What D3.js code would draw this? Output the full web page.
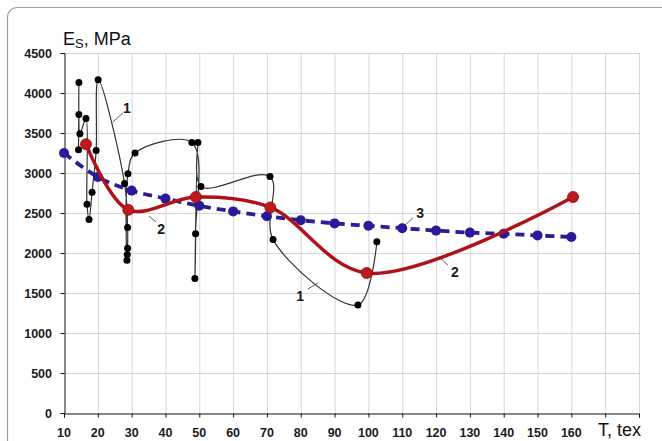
<!DOCTYPE html>
<html lang="en">
<head>
<meta charset="UTF-8">
<title>Es vs T</title>
<script src="https://d3js.org/d3.v7.min.js"></script>
<style>
    * { margin: 0; padding: 0; }
    body { background: #fff; }
    .tick-label { font: bold 12.5px Arial, "Liberation Sans", sans-serif; fill: #1a1a1a; }
    .note { font: bold 14px Arial, "Liberation Sans", sans-serif; fill: #1a1a1a; }
</style>
</head>
<body>
<script>
// series 1: measured points (in plotting order)
var series1T = [14.3, 14.4, 14.4, 14.7, 16.5, 16.8, 17.4, 18.3, 19.5, 20.1,
                27.9, 28.8, 28.8, 28.7, 28.6, 28.9, 31.0, 47.8, 48.9, 48.7,
                49.6, 50.5, 70.9, 71.8, 96.9, 102.5];
var series1E = [3290, 4130, 3730, 3490, 3680, 2610, 2420, 2760, 3280, 4165,
                2870, 2320, 2060, 1980, 1910, 2990, 3250, 3380, 2240, 1680,
                3380, 2830, 2955, 2170, 1350, 2140];
// series 2: averaged curve
var series2T = [16.5, 29, 49, 71, 99.5, 160.5];
var series2E = [3360, 2540, 2700, 2570, 1750, 2700];
// series 3: calculated
var series3T = [10, 20, 30, 40, 50, 60, 70, 80, 90, 100, 110, 120, 130, 140, 150, 160];
var series3E = [3250, 2950, 2780, 2680, 2590, 2520, 2460, 2410, 2370, 2340, 2310, 2280, 2255, 2240, 2220, 2200];

var xTicks = [10, 20, 30, 40, 50, 60, 70, 80, 90, 100, 110, 120, 130, 140, 150, 160];
var yTicks = [0, 500, 1000, 1500, 2000, 2500, 3000, 3500, 4000, 4500];

// curve labels: text position and leader line, in data units
var notes = [
    { text: "1", t: 28.6, e: 3810, t1: 27.4, e1: 3750, t2: 24.5, e2: 3640 },
    { text: "2", t: 38.7, e: 2300, t1: 37.2, e1: 2390, t2: 35.1, e2: 2460 },
    { text: "1", t: 79.8, e: 1460, t1: 82.1, e1: 1550, t2: 85.1, e2: 1625 },
    { text: "3", t: 115.3, e: 2500, t1: 113.2, e1: 2440, t2: 110.8, e2: 2350 },
    { text: "2", t: 125.6, e: 1760, t1: 123.5, e1: 1850, t2: 120.9, e2: 1950 }
];

var width = 662, height = 441;
var svg = d3.select("body").append("svg")
    .attr("width", width)
    .attr("height", height);

// outer frame
svg.append("rect")
    .attr("x", 7.5).attr("y", 7.5)
    .attr("width", 720).attr("height", 520)
    .attr("rx", 10)
    .attr("fill", "#fff")
    .attr("stroke", "#a0a0a0")
    .attr("stroke-width", 1.2);

var x = d3.scaleLinear().domain([10, 180]).range([64, 639]);
var y = d3.scaleLinear().domain([0, 4500]).range([413, 53]);

// grid
svg.append("g").selectAll("line")
    .data(d3.range(20, 181, 10))
    .enter().append("line")
    .attr("x1", function (d) { return x(d) + 0.5; })
    .attr("x2", function (d) { return x(d) + 0.5; })
    .attr("y1", y(4500)).attr("y2", y(0))
    .attr("stroke", "#d6d6d6");
svg.append("g").selectAll("line")
    .data(yTicks.slice(1))
    .enter().append("line")
    .attr("x1", x(10)).attr("x2", x(180))
    .attr("y1", function (d) { return y(d) + 0.5; })
    .attr("y2", function (d) { return y(d) + 0.5; })
    .attr("stroke", "#d6d6d6");

// axes
svg.append("g")
    .attr("transform", "translate(0," + (y(0) + 0.5) + ")")
    .call(d3.axisBottom(x).tickValues(d3.range(10, 181, 10)).tickSize(4).tickFormat(""));
svg.append("g")
    .attr("transform", "translate(" + (x(10) + 0.5) + ",0)")
    .call(d3.axisLeft(y).tickValues(yTicks).tickSize(4).tickFormat(""));
svg.selectAll(".domain").attr("stroke", "#111");
svg.selectAll(".tick line").attr("stroke", "#111");

svg.append("g").selectAll("text")
    .data(yTicks)
    .enter().append("text")
    .attr("class", "tick-label")
    .attr("x", 52)
    .attr("y", function (d) { return y(d) + 4.5; })
    .attr("text-anchor", "end")
    .text(function (d) { return d; });

svg.append("g").selectAll("text")
    .data(xTicks)
    .enter().append("text")
    .attr("class", "tick-label")
    .attr("x", function (d) { return x(d); })
    .attr("y", 437)
    .attr("text-anchor", "middle")
    .text(function (d) { return d; });

// axis titles
var yTitle = svg.append("text")
    .attr("x", 63).attr("y", 45)
    .attr("font-family", "Arial, 'Liberation Sans', sans-serif")
    .attr("font-size", "18px")
    .attr("fill", "#111");
yTitle.append("tspan").text("E");
yTitle.append("tspan").attr("font-size", "13px").attr("dy", 3).text("S");
yTitle.append("tspan").attr("dy", -3).text(", MPa");

svg.append("text")
    .attr("x", 598).attr("y", 436)
    .attr("font-family", "Arial, 'Liberation Sans', sans-serif")
    .attr("font-size", "18px")
    .attr("fill", "#111")
    .text("T, tex");

function pts(ts, es) {
    return ts.map(function (t, i) { return [t, es[i]]; });
}
var data1 = pts(series1T, series1E);
var data2 = pts(series2T, series2E);
var data3 = pts(series3T, series3E);

var line = d3.line()
    .x(function (d) { return x(d[0]); })
    .y(function (d) { return y(d[1]); })
    .curve(d3.curveCatmullRom.alpha(0.5));

// series 1
svg.append("path")
    .datum(data1)
    .attr("d", line)
    .attr("fill", "none")
    .attr("stroke", "#333")
    .attr("stroke-width", 1.2);
svg.append("g").selectAll("circle")
    .data(data1)
    .enter().append("circle")
    .attr("cx", function (d) { return x(d[0]); })
    .attr("cy", function (d) { return y(d[1]); })
    .attr("r", 3.5)
    .attr("fill", "#000");

// series 3
svg.append("path")
    .datum(data3)
    .attr("d", line)
    .attr("fill", "none")
    .attr("stroke", "#2d1c96")
    .attr("stroke-width", 3.8)
    .attr("stroke-dasharray", "9,6");
svg.append("g").selectAll("circle")
    .data(data3)
    .enter().append("circle")
    .attr("cx", function (d) { return x(d[0]); })
    .attr("cy", function (d) { return y(d[1]); })
    .attr("r", 5)
    .attr("fill", "#2a1a9a");

// series 2
svg.append("path")
    .datum(data2)
    .attr("d", line)
    .attr("fill", "none")
    .attr("stroke", "#b0121a")
    .attr("stroke-width", 3.5);
svg.append("g").selectAll("circle")
    .data(data2)
    .enter().append("circle")
    .attr("cx", function (d) { return x(d[0]); })
    .attr("cy", function (d) { return y(d[1]); })
    .attr("r", 5.5)
    .attr("fill", "#c0181e")
    .attr("stroke", "#8a0c10")
    .attr("stroke-width", 0.8);

// labels
var g = svg.append("g");
g.selectAll("line")
    .data(notes)
    .enter().append("line")
    .attr("x1", function (d) { return x(d.t1); })
    .attr("y1", function (d) { return y(d.e1); })
    .attr("x2", function (d) { return x(d.t2); })
    .attr("y2", function (d) { return y(d.e2); })
    .attr("stroke", "#333")
    .attr("stroke-width", 0.8);
g.selectAll("text")
    .data(notes)
    .enter().append("text")
    .attr("class", "note")
    .attr("x", function (d) { return x(d.t); })
    .attr("y", function (d) { return y(d.e) + 5; })
    .attr("text-anchor", "middle")
    .text(function (d) { return d.text; });
</script>
</body>
</html>
